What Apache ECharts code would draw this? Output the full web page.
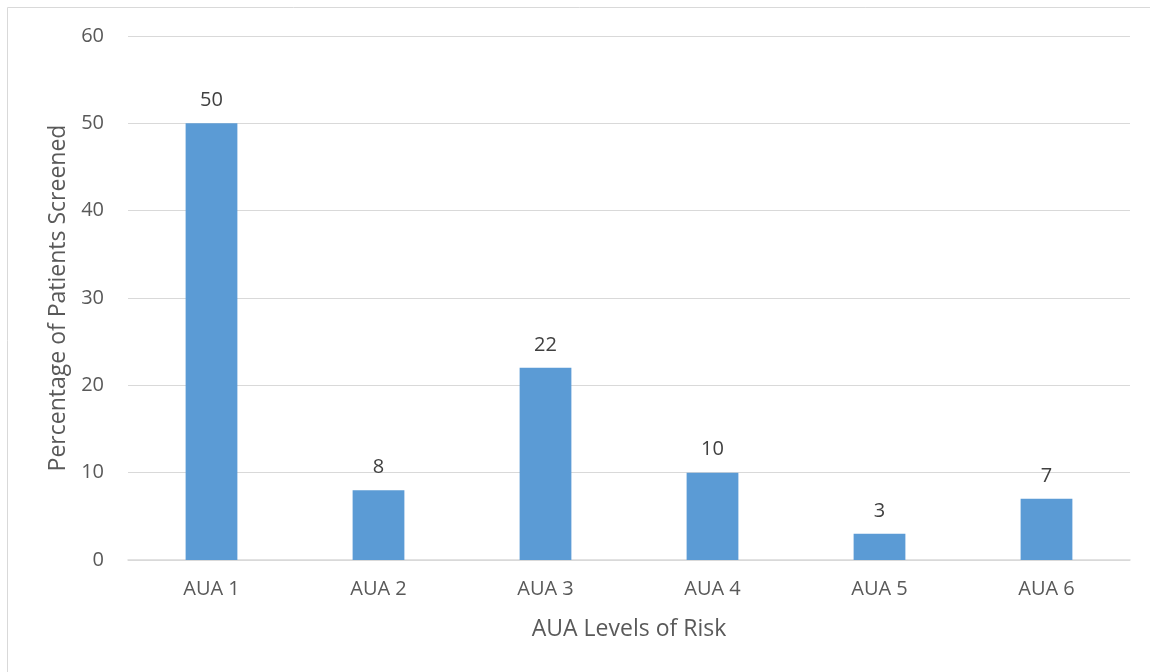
<!DOCTYPE html>
<html>
<head>
<meta charset="utf-8">
<script src="https://cdn.jsdelivr.net/npm/echarts@6/dist/echarts.min.js"></script>
<style>
  html, body { margin: 0; padding: 0; background: #fff; }
  #chart { width: 1150px; height: 672px; }
</style>
</head>
<body>
<div id="chart"></div>
<script>
const categories = ['AUA 1', 'AUA 2', 'AUA 3', 'AUA 4', 'AUA 5', 'AUA 6']
const percentScreened = [50, 8, 22, 10, 3, 7]
const yTicks = [0, 10, 20, 30, 40, 50, 60]

const fontFamily = '"Open Sans", "Liberation Sans", sans-serif'
const textColor = '#595959'

const chart = echarts.init(document.getElementById('chart'))
chart.setOption({
  animation: false,
  textStyle: { fontFamily: fontFamily },
  graphic: [{
    type: 'rect',
    shape: { x: 7.5, y: 7.5, width: 1160, height: 680 },
    style: { fill: 'none', stroke: '#d9d9d9', lineWidth: 1 },
    silent: true
  }],
  grid: { left: 128, right: 20, top: 36, bottom: 112 },
  xAxis: {
    type: 'category',
    data: categories,
    name: 'AUA Levels of Risk',
    nameLocation: 'middle',
    nameGap: 58,
    nameTextStyle: { fontSize: 23, color: textColor, fontFamily: fontFamily },
    axisLine: { lineStyle: { color: '#d9d9d9', width: 1.5 } },
    axisTick: { show: false },
    axisLabel: { fontSize: 20, color: textColor, margin: 19, fontFamily: fontFamily }
  },
  yAxis: {
    type: 'value',
    min: yTicks[0],
    max: yTicks[yTicks.length - 1],
    interval: 10,
    name: 'Percentage of Patients Screened',
    nameLocation: 'middle',
    nameGap: 56,
    nameTextStyle: { fontSize: 23, color: textColor, fontFamily: fontFamily },
    axisLine: { show: false },
    axisTick: { show: false },
    axisLabel: { fontSize: 20, color: textColor, margin: 24, fontFamily: fontFamily },
    splitLine: { lineStyle: { color: '#d9d9d9', width: 1 } }
  },
  series: [{
    type: 'bar',
    data: percentScreened,
    barWidth: '31%',
    itemStyle: { color: '#5b9bd5' },
    label: {
      show: true,
      position: 'top',
      distance: 13,
      fontSize: 20,
      color: '#404040',
      fontFamily: fontFamily
    }
  }]
})
</script>
</body>
</html>
